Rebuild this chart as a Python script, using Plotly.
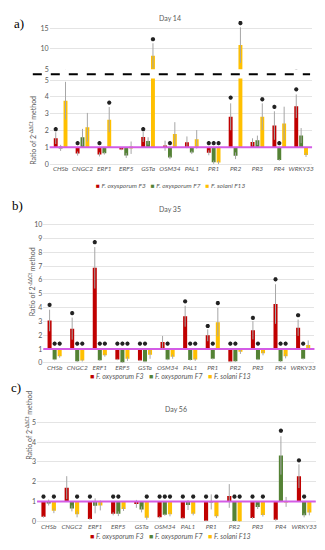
import plotly.graph_objects as go

genes = ["CHSb", "CNGC2", "ERF1", "ERF5", "GSTa", "OSM34", "PAL1", "PR1", "PR2", "PR3", "PR4", "WRKY33"]
series_names = ["F. oxysporum F3", "F. oxysporum F7", "F. solani F13"]
colors = ["#C00000", "#548235", "#FFC000"]

# ---- Day 14 ----
d14_f3 = [1.55, 0.63, 0.58, 0.88, 1.62, 1.10, 1.30, 0.68, 2.82, 1.32, 2.30, 3.45]
d14_f7 = [0.97, 1.60, 0.65, 0.52, 1.38, 0.40, 0.70, 0.12, 0.50, 1.42, 0.25, 1.70]
d14_f13 = [3.78, 2.20, 2.65, 0.98, 8.30, 1.80, 1.48, 0.10, 10.95, 2.82, 2.42, 0.55]
d14_f3_err = [0.35, 0.12, 0.12, 0.05, 0.30, 0.30, 0.35, 0.15, 0.80, 0.22, 0.85, 0.70]
d14_f7_err = [0.18, 0.50, 0.08, 0.15, 0.22, 0.10, 0.10, 0.10, 0.20, 0.28, 0.05, 0.45]
d14_f13_err = [1.12, 0.85, 0.75, 0.37, 3.10, 0.70, 0.55, 0.10, 4.40, 0.80, 1.00, 0.12]
d14_f3_sig = [2.08, 1.25, 1.25, None, 2.08, None, None, 1.25, 3.96, None, 3.41, 4.45]
d14_f7_sig = [None, None, None, None, None, 1.25, None, 1.25, None, None, 1.25, None]
d14_f13_sig = [None, None, 3.66, None, 12.4, None, None, 1.25, 16.4, 3.86, None, None]

# ---- Day 35 ----
d35_f3 = [3.07, 2.48, 6.88, 0.25, 0.18, 1.52, 3.38, 2.00, 0.10, 2.36, 4.26, 2.55]
d35_f7 = [0.24, 0.12, 0.20, 0.05, 0.10, 0.25, 0.22, 0.30, 0.12, 0.25, 0.12, 0.30]
d35_f13 = [0.48, 0.18, 0.55, 0.30, 0.60, 0.45, 0.25, 2.95, 0.80, 0.70, 0.48, 1.29]
d35_f3_err = [0.78, 0.80, 1.50, 0.05, 0.05, 0.43, 0.76, 0.43, 0.05, 0.66, 1.43, 0.59]
d35_f7_err = [0.05, 0.05, 0.05, 0.05, 0.05, 0.05, 0.05, 0.05, 0.05, 0.05, 0.05, 0.05]
d35_f13_err = [0.10, 0.08, 0.10, 0.15, 0.30, 0.15, 0.10, 1.03, 0.15, 0.15, 0.15, 0.34]
d35_f3_sig = [4.20, 3.60, 8.73, 1.40, 1.40, None, 4.45, 2.67, 1.40, 3.26, 6.05, 3.45]
d35_f7_sig = [1.40, 1.40, 1.40, 1.40, 1.40, 1.40, 1.40, 1.40, 1.40, 1.40, 1.40, 1.40]
d35_f13_sig = [1.40, 1.40, 1.40, 1.40, None, None, 1.40, 4.33, None, None, 1.40, None]

# ---- Day 56 ----
d56_f3 = [0.23, 1.70, 0.12, 0.38, 0.88, 0.20, 0.15, 0.03, 1.28, 0.17, 0.08, 2.28]
d56_f7 = [0.95, 0.65, 0.78, 0.38, 0.60, 0.33, 0.82, 0.98, 0.02, 0.72, 3.33, 0.30]
d56_f13 = [0.53, 0.35, 0.80, 0.62, 0.18, 0.35, 0.38, 0.25, 0.00, 0.32, 0.98, 0.45]
d56_f3_err = [0.05, 0.58, 0.05, 0.08, 0.20, 0.05, 0.05, 0.03, 0.60, 0.05, 0.05, 0.60]
d56_f7_err = [0.15, 0.15, 0.38, 0.12, 0.15, 0.05, 0.25, 0.38, 0.02, 0.10, 0.97, 0.10]
d56_f13_err = [0.12, 0.15, 0.25, 0.10, 0.10, 0.10, 0.08, 0.08, 0.02, 0.08, 0.25, 0.15]
d56_f3_sig = [1.25, None, 1.25, 1.25, None, 1.25, 1.25, 1.25, None, 1.25, None, 3.08]
d56_f7_sig = [None, None, None, 1.25, None, 1.25, None, None, 1.25, None, 4.58, 1.25]
d56_f13_sig = [1.25, 1.25, None, None, 1.25, 1.25, 1.25, 1.25, 1.25, 1.25, None, None]

BASE = 1
FONT = "Lato, 'Open Sans', sans-serif"
GREY = "#595959"
W, H = 325, 550


def py(p):
    return 1 - p / H


panels = [
    dict(vals=[d14_f3, d14_f7, d14_f13], errs=[d14_f3_err, d14_f7_err, d14_f13_err],
         sigs=[d14_f3_sig, d14_f7_sig, d14_f13_sig], subplots=[("x", "y"), ("x", "y2")]),
    dict(vals=[d35_f3, d35_f7, d35_f13], errs=[d35_f3_err, d35_f7_err, d35_f13_err],
         sigs=[d35_f3_sig, d35_f7_sig, d35_f13_sig], subplots=[("x2", "y3")]),
    dict(vals=[d56_f3, d56_f7, d56_f13], errs=[d56_f3_err, d56_f7_err, d56_f13_err],
         sigs=[d56_f3_sig, d56_f7_sig, d56_f13_sig], subplots=[("x3", "y4")]),
]

fig = go.Figure()
for p in panels:
    for xa, ya in p["subplots"]:
        for k in range(3):
            fig.add_trace(go.Bar(
                x=genes, y=[v - BASE for v in p["vals"][k]], base=BASE,
                marker=dict(color=colors[k], line=dict(width=0)),
                error_y=dict(type="data", array=p["errs"][k], visible=True,
                             color="#A6A6A6", thickness=1, width=0),
                offsetgroup=str(k), name=series_names[k], showlegend=False,
                xaxis=xa, yaxis=ya, hoverinfo="skip"))
        for k in range(3):
            fig.add_trace(go.Scatter(
                x=genes, y=p["sigs"][k], mode="markers", orientation="v",
                marker=dict(symbol="asterisk-open", size=3.5, color="#222222",
                            line=dict(width=1.3, color="#222222")),
                offsetgroup=str(k), showlegend=False, xaxis=xa, yaxis=ya,
                hoverinfo="skip"))

tickfont = dict(family=FONT, size=7, color=GREY)
catfont = dict(family=FONT, size=6.5, color=GREY, style="italic")
ycommon = dict(showgrid=True, gridcolor="#E4E4E4", gridwidth=1, zeroline=False,
               showline=False, ticks="", tickfont=tickfont, fixedrange=True)
xcommon = dict(showgrid=False, zeroline=False, showline=False, ticks="",
               tickfont=catfont, tickangle=0, range=[-0.5, 11.5], ticklabelstandoff=-3)

fig.update_layout(
    width=W, height=H, margin=dict(l=0, r=0, t=0, b=0),
    paper_bgcolor="white", plot_bgcolor="white",
    barmode="group", bargap=0.33, bargroupgap=0.2,
    scattermode="group", scattergap=0.33,
    font=dict(family=FONT, color=GREY),
    xaxis=dict(domain=[50 / W, 314 / W], anchor="y", **xcommon),
    yaxis=dict(domain=[py(165.5), py(76.3)], range=[-0.15, 5.1], dtick=1, anchor="x", **ycommon),
    yaxis2=dict(domain=[py(67), py(17.8)], range=[4.98, 17], dtick=5, anchor="x", **ycommon),
    xaxis2=dict(domain=[43.6 / W, 316.4 / W], anchor="y3", **xcommon),
    yaxis3=dict(domain=[py(366), py(222)], range=[-0.15, 10.15], dtick=1, anchor="x2", **ycommon),
    xaxis3=dict(domain=[37.3 / W, 317.7 / W], anchor="y4", **xcommon),
    yaxis4=dict(domain=[py(527), py(420)], range=[-0.15, 5.2], dtick=1, anchor="x3", **ycommon),
)

# reference line at ratio = 1
for xr, yr in [("x", "y"), ("x2", "y3"), ("x3", "y4")]:
    fig.add_shape(type="line", xref=f"{xr} domain", yref=yr, x0=0, x1=1, y0=1, y1=1,
                  line=dict(color="#D35CE6", width=2), layer="above")

# axis break (dashed)
fig.add_shape(type="line", xref="paper", yref="paper", x0=33 / W, x1=312 / W,
              y0=py(72), y1=py(72), line=dict(color="black", width=2, dash="dash"))

ytitle = "Ratio of 2<sup>-ΔΔCt</sup> method"
ann = []
for lab, (lx, ly) in zip(["a)", "b)", "c)"], [(12, 11), (10, 205), (9, 398)]):
    ann.append(dict(text=lab, x=lx / W, y=py(ly), xref="paper", yref="paper", showarrow=False,
                    font=dict(family="Liberation Serif, serif", size=13, color="black")))
for t, (tx, tyy) in zip(["Day 14", "Day 35", "Day 56"], [(171, 9), (171, 208), (177, 417)]):
    ann.append(dict(text=t, x=tx / W, y=py(tyy), xref="paper", yref="paper", showarrow=False,
                    font=dict(family=FONT, size=7, color=GREY)))
for (tx, tyy) in [(26, 92), (26, 282), (22, 464)]:
    ann.append(dict(text=ytitle, x=tx / W, y=py(tyy), xref="paper", yref="paper", showarrow=False,
                    textangle=-90, font=dict(family=FONT, size=7, color=GREY)))

sp = "\u00a0\u00a0\u00a0"
legend_text = sp.join(
    f"<span style='color:{c}'>■</span>\u00a0<i>{n}</i>" for c, n in zip(colors, series_names))
for (lx, ly, fs) in [(172, 185, 6.5), (172, 383, 7), (172, 545, 7)]:
    ann.append(dict(text=legend_text, x=lx / W, y=py(ly), xref="paper", yref="paper",
                    showarrow=False, font=dict(family=FONT, size=fs, color=GREY)))
fig.update_layout(annotations=ann)

fig.write_html("out.html", config={"displayModeBar": False},
               post_script="document.body.style.margin='0';document.body.style.overflow='hidden';")
